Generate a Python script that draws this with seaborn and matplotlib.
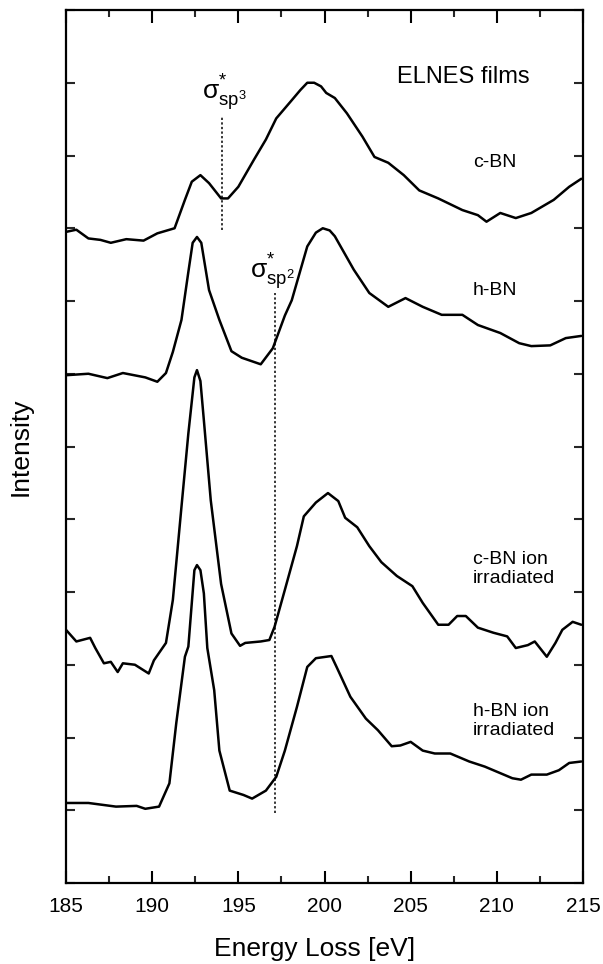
import matplotlib
matplotlib.use("Agg")
import matplotlib.pyplot as plt
import numpy as np
import pandas as pd
import seaborn as sns
from matplotlib.ticker import MultipleLocator

# spectra (energy in eV, intensity in offset tick units)
cbn_ev = [185.0, 185.6, 186.3, 187.0, 187.6, 188.5, 189.5, 190.3, 191.3, 191.9, 192.3, 192.8, 193.3,
          194.0, 194.4, 195.0, 195.9, 196.6, 197.2, 198.1, 198.6, 199.0, 199.4, 199.8, 200.1, 200.6, 201.3,
          202.2, 202.9, 203.7, 204.6, 205.5, 206.6, 207.3, 208.0, 208.9, 209.4, 210.2, 211.1, 212.0,
          213.3, 214.2, 214.9]
cbn_int = [8.95, 8.98, 8.86, 8.84, 8.80, 8.85, 8.83, 8.93, 9.00, 9.39, 9.64, 9.73, 9.62,
           9.41, 9.41, 9.57, 9.94, 10.22, 10.51, 10.76, 10.90, 11.00, 11.00, 10.95, 10.86, 10.79, 10.58,
           10.26, 9.98, 9.90, 9.73, 9.52, 9.41, 9.33, 9.25, 9.18, 9.09, 9.21, 9.14, 9.21,
           9.39, 9.57, 9.68]

hbn_ev = [185.0, 186.3, 187.4, 188.3, 189.6, 190.3, 190.8, 191.2, 191.7, 192.1, 192.35, 192.6, 192.85,
          193.3, 193.9, 194.6, 195.2, 196.3, 197.0, 197.7, 198.1, 199.0, 199.5, 199.9, 200.3, 200.6,
          201.7, 202.6, 203.7, 204.7, 205.7, 206.8, 208.0, 208.9, 210.2, 211.3, 212.0, 213.1, 214.0,
          214.9]
hbn_int = [6.98, 7.00, 6.94, 7.01, 6.95, 6.89, 7.01, 7.30, 7.74, 8.40, 8.80, 8.88, 8.80,
           8.15, 7.74, 7.31, 7.22, 7.13, 7.35, 7.80, 8.01, 8.75, 8.94, 9.00, 8.97, 8.89,
           8.43, 8.11, 7.92, 8.04, 7.92, 7.81, 7.81, 7.67, 7.56, 7.42, 7.38, 7.39, 7.49,
           7.52]

cbn_irr_ev = [185.0, 185.6, 186.4, 186.7, 187.2, 187.6, 188.0, 188.3, 189.0, 189.8, 190.1, 190.8,
              191.2, 191.7, 192.1, 192.45, 192.6, 192.8, 193.0, 193.4, 194.0, 194.6, 195.1, 195.4,
              196.3, 196.8, 197.1, 197.7, 198.4, 198.8, 199.5, 200.2, 200.8, 201.2, 201.9, 202.6,
              203.3, 204.2, 205.1, 205.7, 206.6, 207.2, 207.7, 208.2, 208.9, 209.8, 210.6, 211.1,
              211.8, 212.2, 212.9, 213.4, 213.8, 214.4, 214.9]
cbn_irr_int = [3.48, 3.32, 3.37, 3.23, 3.02, 3.04, 2.90, 3.02, 3.00, 2.88, 3.06, 3.30,
               3.89, 5.17, 6.18, 6.95, 7.05, 6.90, 6.36, 5.26, 4.11, 3.43, 3.26, 3.30,
               3.32, 3.34, 3.52, 4.03, 4.63, 5.04, 5.23, 5.36, 5.25, 5.02, 4.89, 4.63,
               4.41, 4.22, 4.08, 3.85, 3.55, 3.55, 3.67, 3.67, 3.51, 3.44, 3.39, 3.23,
               3.27, 3.32, 3.11, 3.30, 3.48, 3.59, 3.55]

hbn_irr_ev = [185.0, 186.3, 187.9, 189.1, 189.6, 190.4, 191.0, 191.4, 191.9, 192.1, 192.45, 192.6,
              192.8, 193.0, 193.2, 193.6, 193.9, 194.5, 195.3, 195.8, 196.6, 197.2, 197.7, 198.4,
              199.0, 199.5, 200.4, 200.7, 201.5, 202.4, 203.1, 203.9, 204.4, 205.0, 205.7, 206.4,
              207.3, 208.4, 209.3, 210.2, 210.9, 211.4, 212.0, 212.9, 213.6, 214.2, 214.9]
hbn_irr_int = [1.10, 1.10, 1.05, 1.06, 1.02, 1.05, 1.37, 2.20, 3.11, 3.25, 4.30, 4.37,
               4.30, 3.98, 3.23, 2.65, 1.82, 1.27, 1.21, 1.16, 1.27, 1.46, 1.82, 2.42,
               2.97, 3.09, 3.12, 2.97, 2.56, 2.26, 2.10, 1.88, 1.89, 1.94, 1.82, 1.78,
               1.78, 1.67, 1.60, 1.51, 1.44, 1.42, 1.49, 1.49, 1.55, 1.65, 1.67]

samples = ["c-BN", "h-BN", "c-BN ion\nirradiated", "h-BN ion\nirradiated"]
label_y = [9.9, 8.15, 4.32, 2.23]

# sigma* markers: position (eV), dashed line span, label
sigma_ev = [194.05, 197.13]
sigma_lo = [8.98, 0.96]
sigma_hi = [10.53, 8.11]
sigma_text = [r"σ$^{*}_{\mathrm{sp}^{3}}$", r"σ$^{*}_{\mathrm{sp}^{2}}$"]
sigma_pos = [(192.9, 10.86), (195.7, 8.41)]

frames = []
for name, ev, inten in zip(samples,
                           [cbn_ev, hbn_ev, cbn_irr_ev, hbn_irr_ev],
                           [cbn_int, hbn_int, cbn_irr_int, hbn_irr_int]):
    frames.append(pd.DataFrame({"ev": ev, "intensity": inten, "sample": name}))
df = pd.concat(frames, ignore_index=True)

sns.set_theme(style="ticks")
plt.rcParams["font.family"] = ["Liberation Sans", "DejaVu Sans"]
plt.rcParams["text.color"] = "black"
plt.rcParams["axes.labelcolor"] = "black"
plt.rcParams["mathtext.fontset"] = "custom"
plt.rcParams["mathtext.rm"] = "Liberation Sans"
plt.rcParams["mathtext.it"] = "Liberation Sans:italic"
plt.rcParams["mathtext.bf"] = "Liberation Sans:bold"

fig = plt.figure(figsize=(6.03, 9.64), dpi=100)
ax = fig.add_axes([66 / 603, 1 - 883 / 964, 517 / 603, 873 / 964])

sns.lineplot(data=df, x="ev", y="intensity", units="sample", estimator=None,
             color="black", linewidth=1.8, sort=False, ax=ax)

for xv, lo, hi in zip(sigma_ev, sigma_lo, sigma_hi):
    ax.plot([xv, xv], [lo, hi], color="black", linewidth=1.1, linestyle=(0, (1.5, 1.5)))

for txt, (tx, ty) in zip(sigma_text, sigma_pos):
    ax.text(tx, ty, txt, fontsize=19, ha="left", va="center")

for name, yv in zip(samples, label_y):
    ax.text(208.6, yv, name, fontsize=14, ha="left", va="center", linespacing=1.15)

ax.text(204.2, 11.08, "ELNES films", fontsize=17, ha="left", va="center")

ax.set_xlim(185, 215)
ax.set_ylim(0, 12)
ax.xaxis.set_major_locator(MultipleLocator(5))
ax.xaxis.set_minor_locator(MultipleLocator(2.5))
ax.yaxis.set_major_locator(MultipleLocator(1))
ax.set_yticklabels([])
ax.tick_params(axis="x", which="major", direction="in", length=9, width=1.5,
               top=True, labelsize=15, pad=10, colors="black")
ax.tick_params(axis="x", which="minor", direction="in", length=5, width=1.5, top=True)
ax.tick_params(axis="y", which="major", direction="in", length=6.5, width=1.5,
               right=True, left=True)
for sp in ax.spines.values():
    sp.set_linewidth(1.6)
    sp.set_color("black")

ax.set_xlabel("Energy Loss [eV]", fontsize=19)
ax.xaxis.set_label_coords(0.48, -0.062)
ax.xaxis.label.set_va("top")
ax.set_ylabel("Intensity", fontsize=19)
ax.yaxis.set_label_coords(-0.064, 0.5)

fig.savefig("out.png", dpi=100)
